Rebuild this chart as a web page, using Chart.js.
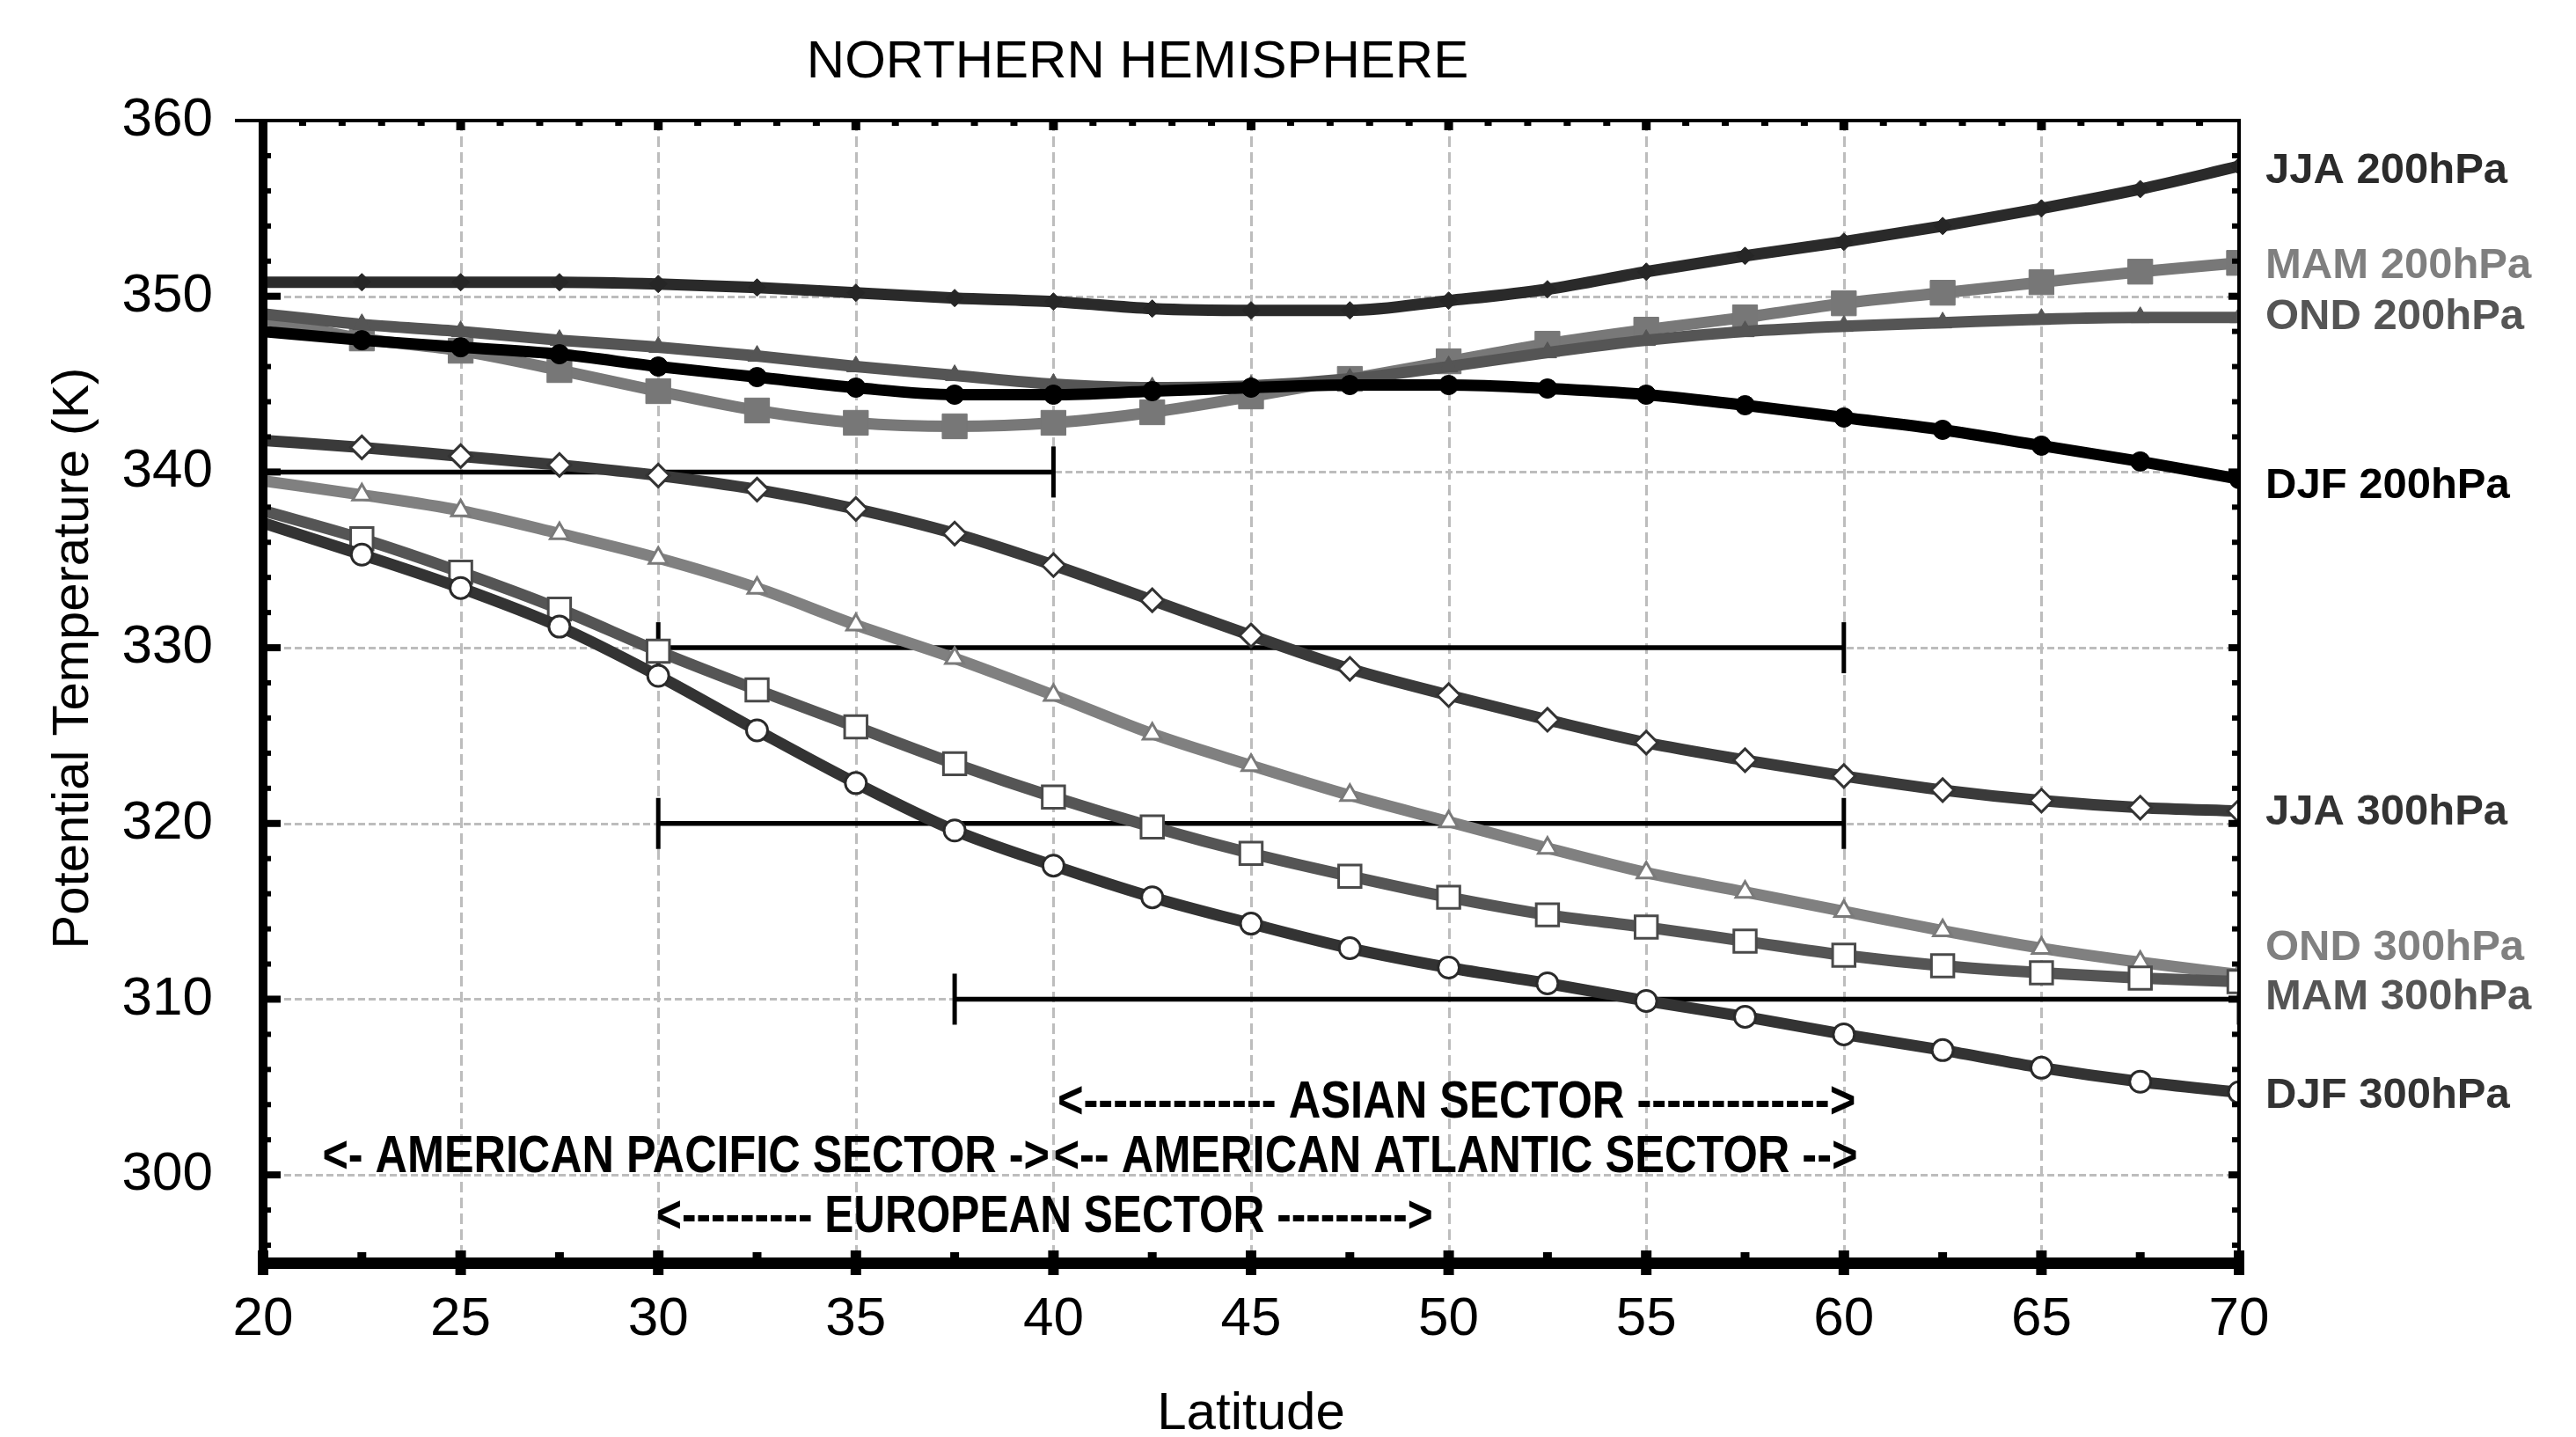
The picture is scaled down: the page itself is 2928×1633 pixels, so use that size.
<!DOCTYPE html>
<html>
<head>
<meta charset="utf-8">
<title>Northern Hemisphere - Potential Temperature</title>
<script src="https://cdn.jsdelivr.net/npm/chart.js@4.4.0/dist/chart.umd.min.js"></script>
<style>
  html, body { margin: 0; padding: 0; background: #fff; }
  #wrap { width: 2928px; height: 1633px; }
</style>
</head>
<body>
<div id="wrap"><canvas id="chart" width="2928" height="1633"></canvas></div>
<script>
// latitude of every sample
var latitudes = [20, 22.5, 25, 27.5, 30, 32.5, 35, 37.5, 40, 42.5, 45, 47.5, 50, 52.5, 55, 57.5, 60, 62.5, 65, 67.5, 70];

// potential temperature (K)
var jja200 = [350.8, 350.8, 350.8, 350.8, 350.7, 350.5, 350.2, 349.9, 349.7, 349.3, 349.2, 349.2, 349.75, 350.4, 351.4, 352.3, 353.1, 354.0, 355.0, 356.1, 357.4];
var mam200 = [348.7, 347.6, 346.9, 345.8, 344.6, 343.5, 342.8, 342.6, 342.8, 343.4, 344.3, 345.3, 346.3, 347.3, 348.1, 348.8, 349.6, 350.2, 350.8, 351.4, 351.9];
var ond200 = [349.0, 348.4, 348.0, 347.5, 347.1, 346.6, 346.0, 345.5, 345.0, 344.8, 344.9, 345.3, 346.0, 346.8, 347.5, 348.0, 348.3, 348.5, 348.7, 348.8, 348.8];
var djf200 = [348.0, 347.5, 347.1, 346.7, 346.0, 345.4, 344.8, 344.4, 344.4, 344.6, 344.8, 344.95, 344.95, 344.75, 344.4, 343.8, 343.1, 342.4, 341.5, 340.6, 339.6];
var jja300 = [341.8, 341.4, 340.9, 340.4, 339.8, 339.0, 337.9, 336.5, 334.7, 332.7, 330.7, 328.8, 327.3, 325.9, 324.6, 323.6, 322.7, 321.9, 321.3, 320.9, 320.7];
var ond300 = [339.5, 338.7, 337.8, 336.5, 335.1, 333.4, 331.3, 329.4, 327.3, 325.1, 323.3, 321.6, 320.1, 318.6, 317.2, 316.1, 315.0, 313.9, 312.9, 312.1, 311.4];
var mam300 = [337.8, 336.2, 334.3, 332.2, 329.8, 327.6, 325.5, 323.4, 321.5, 319.8, 318.3, 317.0, 315.8, 314.8, 314.1, 313.3, 312.5, 311.9, 311.5, 311.2, 311.0];
var djf300 = [337.1, 335.3, 333.4, 331.2, 328.4, 325.3, 322.3, 319.6, 317.6, 315.8, 314.3, 312.9, 311.8, 310.9, 309.9, 309.0, 308.0, 307.1, 306.1, 305.3, 304.7];

// series names and where their names sit on the right
var seriesNames = ['JJA 200hPa', 'MAM 200hPa', 'OND 200hPa', 'DJF 200hPa', 'JJA 300hPa', 'OND 300hPa', 'MAM 300hPa', 'DJF 300hPa'];
var nameLevels = [357.1, 351.7, 348.8, 339.2, 320.6, 312.9, 310.1, 304.5];
var nameColors = ['#2b2b2b', '#7f7f7f', '#555555', '#000000', '#333333', '#808080', '#555555', '#333333'];

// the black range bars
var barFrom = [20, 30, 30, 37.5];
var barTo = [40, 60, 60, 70];
var barLevel = [340, 330, 320, 310];

// sector notes
var sectorText = ['<------------- ASIAN SECTOR ------------->', '<- AMERICAN PACIFIC SECTOR ->', '<-- AMERICAN ATLANTIC SECTOR -->', '<--------- EUROPEAN SECTOR --------->'];
var sectorFrom = [40.1, 21.5, 40.0, 29.95];
var sectorTo = [60.3, 39.9, 60.35, 49.6];
var sectorLevel = [304.1, 301.0, 301.0, 297.6];

// tick labels
var xTicks = [20, 25, 30, 35, 40, 45, 50, 55, 60, 65, 70];
var yTicks = [300, 310, 320, 330, 340, 350, 360];

var FONT = '"Liberation Sans", Arial, Helvetica, sans-serif';

function pts(values) {
    return latitudes.map(function(lat, i) { return { x: lat, y: values[i] }; });
}

function series(values, color, style, radius, filled, markColor) {
    return {
        data: pts(values),
        borderColor: color,
        borderWidth: 13,
        cubicInterpolationMode: 'monotone',
        pointStyle: style,
        // the first marker sits under the left axis in the original
        pointRadius: function(c) { return c.dataIndex === 0 ? 0 : radius; },
        pointBackgroundColor: filled ? markColor : '#ffffff',
        pointBorderColor: markColor,
        pointBorderWidth: filled ? 1 : 3
    };
}

var datasets = [
    series(djf300, '#333333', 'circle', 12, false, '#2a2a2a'),
    series(mam300, '#555555', 'rect', 18, false, '#4a4a4a'),
    series(ond300, '#808080', 'triangle', 12, false, '#7a7a7a'),
    series(jja300, '#3a3a3a', 'rectRot', 13, false, '#333333'),
    series(djf200, '#000000', 'circle', 11, true, '#000000'),
    series(ond200, '#555555', 'triangle', 12, true, '#555555'),
    series(mam200, '#787878', 'rect', 20, true, '#777777'),
    series(jja200, '#2a2a2a', 'rectRot', 10, true, '#262626')
];

barLevel.forEach(function(level, i) {
    datasets.push({
        data: [{ x: barFrom[i], y: level }, { x: barTo[i], y: level }],
        borderColor: '#000000',
        borderWidth: 5.5,
        pointStyle: 'line',
        rotation: 90,
        pointRadius: 29,
        pointBorderWidth: 5,
        pointBorderColor: '#000000'
    });
});

var frame = {
    id: 'frame',
    beforeDraw: function(chart) {
        var ctx = chart.ctx;
        ctx.save();
        ctx.fillStyle = '#ffffff';
        ctx.fillRect(0, 0, chart.width, chart.height);
        ctx.restore();
    },
    beforeDatasetsDraw: function(chart) {
        var ctx = chart.ctx, a = chart.chartArea;
        var xs = chart.scales.x, ys = chart.scales.y;
        ctx.save();
        ctx.strokeStyle = '#bdbdbd';
        ctx.lineWidth = 3;
        ctx.setLineDash([12, 6]);
        xTicks.forEach(function(v) {
            if (v === 20 || v === 70) return;
            var px = Math.round(xs.getPixelForValue(v)) + 0.5;
            ctx.beginPath();
            ctx.moveTo(px, a.top);
            ctx.lineTo(px, a.bottom);
            ctx.stroke();
        });
        ctx.setLineDash([8, 4]);
        yTicks.forEach(function(v) {
            if (v === 360) return;
            var py = Math.round(ys.getPixelForValue(v)) + 0.5;
            ctx.beginPath();
            ctx.moveTo(a.left, py);
            ctx.lineTo(a.right, py);
            ctx.stroke();
        });
        ctx.restore();
    },
    afterDatasetsDraw: function(chart) {
        var ctx = chart.ctx, a = chart.chartArea;
        var xs = chart.scales.x, ys = chart.scales.y;
        var v, px, py;
        ctx.save();
        ctx.fillStyle = '#000000';

        // frame lines
        ctx.fillRect(a.left - 32, a.top - 2, a.right - a.left + 34, 4);
        ctx.fillRect(a.right - 2, a.top - 2, 4, a.bottom - a.top + 4);
        ctx.fillRect(a.left - 5, a.top, 10, a.bottom - a.top + 6);
        ctx.fillRect(a.left - 5, a.bottom - 6, a.right - a.left + 6, 13);

        // bottom ticks
        for (v = 20; v <= 70; v += 2.5) {
            px = xs.getPixelForValue(v);
            if (v % 5 === 0) ctx.fillRect(px - 6, a.bottom - 14, 12, 28);
            else ctx.fillRect(px - 5, a.bottom - 12, 10, 8);
        }
        // top ticks
        for (v = 21; v < 70; v += 1) {
            px = xs.getPixelForValue(v);
            if (v % 5 === 0) ctx.fillRect(px - 5, a.top, 10, 11);
            else ctx.fillRect(px - 4, a.top, 8, 6);
        }
        // left and right ticks
        for (v = 296; v < 360; v += 2) {
            py = ys.getPixelForValue(v);
            if (v % 10 === 0) {
                ctx.fillRect(a.left, py - 4, 20, 8);
                ctx.fillRect(a.right - 12, py - 4, 12, 8);
            } else {
                ctx.fillRect(a.left, py - 3, 9, 6);
                ctx.fillRect(a.right - 8, py - 3, 8, 6);
            }
        }

        // title and axis titles
        ctx.textAlign = 'center';
        ctx.textBaseline = 'middle';
        ctx.font = '60px ' + FONT;
        ctx.fillText('NORTHERN HEMISPHERE', 1293, 71);
        ctx.fillText('Latitude', (a.left + a.right) / 2, 1607);
        ctx.save();
        ctx.translate(84, 748);
        ctx.rotate(-Math.PI / 2);
        ctx.font = '58px ' + FONT;
        ctx.fillText('Potential Temperature (K)', 0, 0);
        ctx.restore();

        // series names on the right
        ctx.textAlign = 'left';
        ctx.font = 'bold 49px ' + FONT;
        seriesNames.forEach(function(name, i) {
            ctx.fillStyle = nameColors[i];
            ctx.fillText(name, a.right + 30, ys.getPixelForValue(nameLevels[i]));
        });

        // sector notes, squeezed to their span
        ctx.fillStyle = '#000000';
        ctx.font = 'bold 60px ' + FONT;
        sectorText.forEach(function(text, i) {
            var x1 = xs.getPixelForValue(sectorFrom[i]);
            var x2 = xs.getPixelForValue(sectorTo[i]);
            var w = ctx.measureText(text).width;
            ctx.save();
            ctx.translate(x1, ys.getPixelForValue(sectorLevel[i]));
            ctx.scale((x2 - x1) / w, 1);
            ctx.fillText(text, 0, 0);
            ctx.restore();
        });
        ctx.restore();
    }
};

var chart = new Chart(document.getElementById('chart').getContext('2d'), {
    type: 'line',
    data: { datasets: datasets },
    options: {
        responsive: false,
        animation: false,
        devicePixelRatio: 1,
        layout: { padding: { left: 0, top: 137, right: 383, bottom: 0 } },
        plugins: {
            legend: { display: false },
            tooltip: { enabled: false }
        },
        scales: {
            x: {
                type: 'linear',
                min: 20,
                max: 70,
                grid: { display: false },
                border: { display: false },
                ticks: { color: '#000', font: { family: FONT, size: 62 }, padding: 20 },
                afterBuildTicks: function(scale) {
                    scale.ticks = xTicks.map(function(t) { return { value: t }; });
                },
                afterFit: function(scale) { scale.height = 198; }
            },
            y: {
                type: 'linear',
                min: 295,
                max: 360,
                grid: { display: false },
                border: { display: false },
                ticks: { color: '#000', font: { family: FONT, size: 62 }, padding: 49 },
                afterBuildTicks: function(scale) {
                    scale.ticks = yTicks.map(function(t) { return { value: t }; });
                },
                afterFit: function(scale) { scale.width = 299; }
            }
        }
    },
    plugins: [frame]
});
</script>
</body>
</html>
